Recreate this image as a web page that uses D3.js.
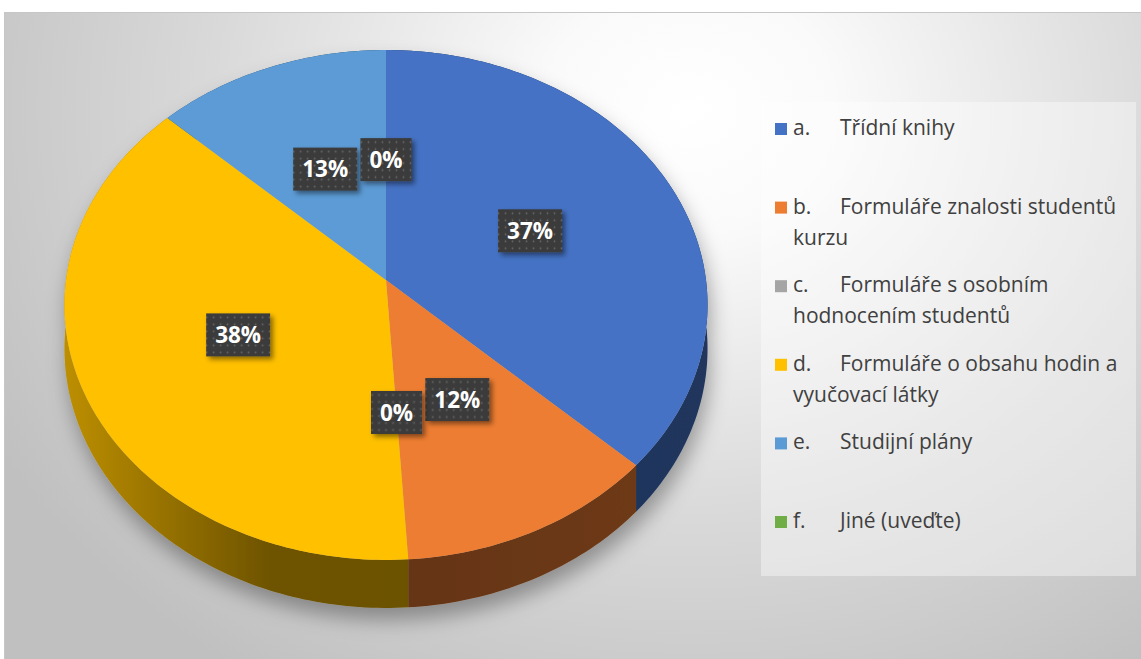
<!DOCTYPE html>
<html>
<head>
<meta charset="utf-8">
<script src="https://cdn.jsdelivr.net/npm/d3@7"></script>
<style>
  html, body { margin: 0; padding: 0; background: #ffffff; overflow: hidden; }
  svg { display: block; }
</style>
</head>
<body>
<svg id="chart" width="1141" height="659"></svg>
<script>
// Survey answers: which documents are used (share of responses, %)
const letters = ["a.", "b.", "c.", "d.", "e.", "f."];
const categories = [
  "Třídní knihy",
  "Formuláře znalosti studentů kurzu",
  "Formuláře s osobním hodnocením studentů",
  "Formuláře o obsahu hodin a vyučovací látky",
  "Studijní plány",
  "Jiné (uveďte)"
];
const shares = [37, 12, 0, 38, 13, 0];
const colors = ["#4472C4", "#ED7D31", "#A5A5A5", "#FFC000", "#5B9BD5", "#70AD47"];

const W = 1141, H = 659;
const svg = d3.select("#chart");
const defs = svg.append("defs");

// ---- background panel with a soft radial light ----
const bg = defs.append("radialGradient").attr("id", "panelGrad")
  .attr("gradientUnits", "userSpaceOnUse")
  .attr("cx", 690).attr("cy", 110).attr("r", 800)
  .attr("gradientTransform", "translate(690,110) scale(1,0.85) translate(-690,-110)");
bg.append("stop").attr("offset", 0).attr("stop-color", "#ffffff");
bg.append("stop").attr("offset", 0.18).attr("stop-color", "#fafafa");
bg.append("stop").attr("offset", 0.6).attr("stop-color", "#d9d9d9");
bg.append("stop").attr("offset", 1).attr("stop-color", "#c0c0c0");

svg.append("rect")
  .attr("x", 4.5).attr("y", 12.5).attr("width", W - 4).attr("height", H - 12)
  .attr("fill", "url(#panelGrad)")
  .attr("stroke", "#c6c6c6").attr("stroke-width", 1);

// ---- filters ----
const pieShadow = defs.append("filter").attr("id", "pieShadow")
  .attr("x", "-20%").attr("y", "-20%").attr("width", "140%").attr("height", "140%");
pieShadow.append("feDropShadow")
  .attr("dx", 3).attr("dy", 12).attr("stdDeviation", 10)
  .attr("flood-color", "#000").attr("flood-opacity", 0.33);

const tagShadow = defs.append("filter").attr("id", "tagShadow")
  .attr("x", "-30%").attr("y", "-30%").attr("width", "160%").attr("height", "160%");
tagShadow.append("feDropShadow")
  .attr("dx", 3).attr("dy", 3).attr("stdDeviation", 2.5)
  .attr("flood-color", "#000").attr("flood-opacity", 0.45);

const dots = defs.append("pattern").attr("id", "tagDots")
  .attr("patternUnits", "userSpaceOnUse").attr("width", 7).attr("height", 7);
dots.append("rect").attr("width", 7).attr("height", 7).attr("fill", "#3b3b3b");
dots.append("circle").attr("cx", 3.5).attr("cy", 3.5).attr("r", 0.9).attr("fill", "#686868");

// ---- perspective disc projection ----
const cx = 386, cy = 280;     // projected disc centre
const A = 320, B = 252.5;     // horizontal / vertical radii before perspective
const kPersp = 0.098;         // perspective strength (near side larger)
const depth = 43.3;           // thickness of the pie

function project(angle, r, drop) {
  const u = r * Math.sin(angle);
  const v = -r * Math.cos(angle);
  const w = 1 - kPersp * v;
  return [cx + A * u / w, cy + (B * v + drop) / w];
}
function rimPoints(a0, a1, drop) {
  const n = Math.max(2, Math.ceil(Math.abs(a1 - a0) / (Math.PI / 180)));
  return d3.range(n + 1).map(i => project(a0 + (a1 - a0) * i / n, 1, drop));
}

const pie = d3.pie().sort(null).value(d => d);
const arcs = pie(shares).map((a, i) => ({ ...a, i }));
const line = d3.line();

// side shading: lit from the left, darker toward the front and right
const shadeStops = [[0, 0.85], [0.32, 2.35], [0.55, 2.4], [1, 2.1]];
arcs.forEach(a => {
  const g = defs.append("linearGradient").attr("id", "side" + a.i)
    .attr("gradientUnits", "userSpaceOnUse")
    .attr("x1", cx - A).attr("x2", cx + A).attr("y1", 0).attr("y2", 0);
  shadeStops.forEach(([o, d]) => {
    g.append("stop").attr("offset", o)
      .attr("stop-color", d3.color(colors[a.i]).darker(d).formatHex());
  });
});

const pieG = svg.append("g").attr("filter", "url(#pieShadow)");

// side walls, far ones first
const sideOrder = arcs
  .filter(a => a.endAngle > a.startAngle)
  .slice()
  .sort((p, q) => (-Math.cos((p.startAngle + p.endAngle) / 2)) - (-Math.cos((q.startAngle + q.endAngle) / 2)));

pieG.selectAll("path.side").data(sideOrder).join("path")
  .attr("class", "side")
  .attr("d", a => {
    const top = rimPoints(a.startAngle, a.endAngle, 0);
    const bottom = rimPoints(a.endAngle, a.startAngle, depth);
    return line(top.concat(bottom)) + "Z";
  })
  .attr("fill", a => `url(#side${a.i})`);

// top face
pieG.selectAll("path.top").data(arcs.filter(a => a.endAngle > a.startAngle)).join("path")
  .attr("class", "top")
  .attr("d", a => line([[cx, cy]].concat(rimPoints(a.startAngle, a.endAngle, 0))) + "Z")
  .attr("fill", a => colors[a.i]);

// ---- value tags ----
const tagG = svg.append("g");
arcs.forEach(a => {
  const mid = (a.startAngle + a.endAngle) / 2;
  const [x, y] = project(mid, 0.5, 0);
  const g = tagG.append("g").attr("transform", `translate(${x},${y})`);
  const box = g.append("rect").attr("fill", "url(#tagDots)").attr("filter", "url(#tagShadow)");
  const t = g.append("text")
    .attr("text-anchor", "middle").attr("dy", "0.36em")
    .attr("font-family", "'Open Sans', Lato, sans-serif")
    .attr("font-weight", 700).attr("font-size", 22.5)
    .attr("fill", "#ffffff")
    .text(d3.format(".0f")(a.data) + "%");
  const bw = t.node().getComputedTextLength() + 18;
  const bh = 43;
  box.attr("x", -bw / 2).attr("y", -bh / 2).attr("width", bw).attr("height", bh);
});

// ---- legend ----
const legend = { x: 761, y: 102, w: 375, h: 474 };
svg.append("rect")
  .attr("x", legend.x).attr("y", legend.y).attr("width", legend.w).attr("height", legend.h)
  .attr("fill", "#ffffff").attr("fill-opacity", 0.4);

const legFont = "'Open Sans', Lato, sans-serif";
const legSize = 21;
const firstBase = 135, step = 78.6, lineGap = 31;
const markX = 775, letterX = 793, nameX = 840, maxRight = 1130;

const measurer = svg.append("text")
  .attr("font-family", legFont).attr("font-size", legSize)
  .attr("visibility", "hidden");
function textWidth(s) { measurer.text(s); return measurer.node().getComputedTextLength(); }

function wrap(name) {
  const words = name.split(" ");
  const lines = [];
  let cur = "", startX = nameX;
  words.forEach(wd => {
    const trial = cur ? cur + " " + wd : wd;
    if (cur && startX + textWidth(trial) > maxRight) {
      lines.push(cur);
      cur = wd;
      startX = letterX;
    } else {
      cur = trial;
    }
  });
  lines.push(cur);
  return lines;
}

const legG = svg.append("g")
  .attr("font-family", legFont).attr("font-size", legSize).attr("fill", "#404040");

categories.forEach((name, i) => {
  const base = firstBase + i * step;
  legG.append("rect")
    .attr("x", markX).attr("y", base - 12).attr("width", 12).attr("height", 12)
    .attr("fill", colors[i]);
  legG.append("text").attr("x", letterX).attr("y", base).text(letters[i]);
  wrap(name).forEach((ln, j) => {
    legG.append("text")
      .attr("x", j === 0 ? nameX : letterX)
      .attr("y", base + j * lineGap)
      .text(ln);
  });
});
measurer.remove();
</script>
</body>
</html>
